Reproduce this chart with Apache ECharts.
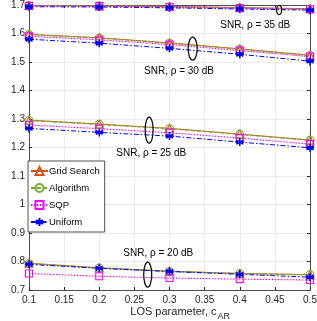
<!DOCTYPE html>
<html><head><meta charset="utf-8">
<script src="https://cdn.jsdelivr.net/npm/echarts@6/dist/echarts.min.js"></script>
<style>html,body{margin:0;padding:0;background:#fff}#c{width:317px;height:321px}</style>
</head><body><div id="c"></div>
<script>
const xValues = [0.1, 0.2, 0.3, 0.4, 0.5];
const xTicks = ['0.1','0.15','0.2','0.25','0.3','0.35','0.4','0.45','0.5'];
const yTicks = ['0.7','0.8','0.9','1','1.1','1.2','1.3','1.4','1.5','1.6','1.7'];
const methods = ['Grid Search', 'Algorithm', 'SQP', 'Uniform'];
const snrLevels = ['35', '30', '25', '20'];

const gridSearch35 = [1.698, 1.697, 1.695, 1.691, 1.687];
const gridSearch30 = [1.597, 1.585, 1.567, 1.546, 1.524];
const gridSearch25 = [1.296, 1.282, 1.267, 1.247, 1.226];
const gridSearch20 = [0.794, 0.778, 0.766, 0.758, 0.754];

const algorithm35 = [1.698, 1.697, 1.694, 1.690, 1.686];
const algorithm30 = [1.596, 1.584, 1.566, 1.545, 1.523];
const algorithm25 = [1.295, 1.281, 1.266, 1.246, 1.225];
const algorithm20 = [0.793, 0.777, 0.765, 0.758, 0.753];

const sqp35 = [1.697, 1.696, 1.693, 1.689, 1.685];
const sqp30 = [1.590, 1.578, 1.561, 1.540, 1.519];
const sqp25 = [1.279, 1.266, 1.252, 1.233, 1.212];
const sqp20 = [0.758, 0.748, 0.742, 0.738, 0.735];

const uniform35 = [1.694, 1.693, 1.690, 1.686, 1.682];
const uniform30 = [1.580, 1.566, 1.548, 1.527, 1.503];
const uniform25 = [1.267, 1.253, 1.240, 1.219, 1.199];
const uniform20 = [0.790, 0.776, 0.765, 0.755, 0.745];

// annotation anchors in data coordinates
const ellipseCenters = [[0.456, 1.6825], [0.333, 1.547], [0.271, 1.261], [0.269, 0.754]];
const ellipseRadii = [[2.5, 4.5], [4.5, 11.5], [4, 13], [4, 12.5]];
const labelCenters = [[0.422, 1.630], [0.3135, 1.468], [0.274, 1.181], [0.284, 0.830]];

const seriesData = {
  'Grid Search': [gridSearch35, gridSearch30, gridSearch25, gridSearch20],
  'Algorithm': [algorithm35, algorithm30, algorithm25, algorithm20],
  'SQP': [sqp35, sqp30, sqp25, sqp20],
  'Uniform': [uniform35, uniform30, uniform25, uniform20]
};

const asterisk = 'path://M0,-5L0,5M-4.33,-2.5L4.33,2.5M-4.33,2.5L4.33,-2.5M-5,0L5,0';
const styles = {
  'Grid Search': {color: '#D95319', symbol: 'triangle', size: 8, type: 'solid', width: 1},
  'Algorithm': {color: '#77AC30', symbol: 'circle', size: 8, type: [4, 2], width: 1.3},
  'SQP': {color: '#FF00FF', symbol: 'rect', size: 7, type: [1.5, 1.5], width: 1.1},
  'Uniform': {color: '#0000FF', symbol: asterisk, size: 8, type: [5, 2, 1.5, 2], width: 1}
};

const series = [];
snrLevels.forEach((s, i) => {
  methods.forEach(m => {
    const st = styles[m];
    const isAst = m === 'Uniform';
    series.push({
      name: m, type: 'line',
      data: xValues.map((x, k) => [x, seriesData[m][i][k]]),
      symbol: st.symbol, symbolSize: st.size, showAllSymbol: true,
      clip: false, silent: true, animation: false,
      lineStyle: {color: st.color, width: st.width, type: st.type},
      itemStyle: {color: isAst ? st.color : 'rgba(255,255,255,0)', borderColor: st.color, borderWidth: isAst ? 1.6 : 1.1}
    });
  });
});

const font = 'Liberation Sans, Arial, Helvetica, sans-serif';
const chart = echarts.init(document.getElementById('c'), null, {renderer: 'canvas'});
chart.setOption({
  animation: false,
  backgroundColor: '#fff',
  textStyle: {fontFamily: font},
  grid: {left: 29, right: 7, top: 5, bottom: 31, containLabel: false, outerBoundsMode: 'none'},
  legend: {
    data: methods, orient: 'vertical', left: 28, top: 161,
    backgroundColor: '#fff', borderColor: '#262626', borderWidth: 0.8, borderRadius: 0,
    padding: [5, 5, 5, 2], itemWidth: 17, itemHeight: 10, itemGap: 7,
    textStyle: {fontFamily: font, fontSize: 9.5, color: '#000', padding: [0, 0, 0, -4]},
    selectedMode: false
  },
  xAxis: [{
    type: 'value', min: 0.1, max: 0.5, interval: 0.05,
    axisLine: {show: true, lineStyle: {color: '#262626', width: 0.8}},
    axisTick: {show: true, inside: true, length: 3, lineStyle: {color: '#262626'}},
    axisLabel: {fontFamily: font, fontSize: 10, color: '#262626', margin: 5,
      formatter: (v) => xTicks[Math.round((v - 0.1) / 0.05)] || ''},
    splitLine: {show: true, lineStyle: {color: '#EBEBEB', width: 1}}
  }, {
    type: 'value', min: 0.1, max: 0.5, interval: 0.05, position: 'top',
    axisLine: {show: true, lineStyle: {color: '#262626', width: 0.8}},
    axisTick: {show: true, inside: true, length: 3, lineStyle: {color: '#262626'}},
    axisLabel: {show: false}, splitLine: {show: false}
  }],
  yAxis: [{
    type: 'value', min: 0.7, max: 1.7, interval: 0.1,
    name: 'Key Rate (bits per cu)', nameLocation: 'middle', nameGap: 21,
    nameTextStyle: {fontFamily: font, fontSize: 10.5, color: '#262626'},
    axisLine: {show: true, lineStyle: {color: '#262626', width: 0.8}},
    axisTick: {show: true, inside: true, length: 3, lineStyle: {color: '#262626'}},
    axisLabel: {fontFamily: font, fontSize: 10, color: '#262626', margin: 4,
      formatter: (v) => yTicks[Math.round((v - 0.7) / 0.1)] || ''},
    splitLine: {show: true, lineStyle: {color: '#EBEBEB', width: 1}}
  }, {
    type: 'value', min: 0.7, max: 1.7, interval: 0.1, position: 'right',
    axisLine: {show: true, lineStyle: {color: '#262626', width: 0.8}},
    axisTick: {show: true, inside: true, length: 3, lineStyle: {color: '#262626'}},
    axisLabel: {show: false}, splitLine: {show: false}
  }],
  series: series
});

const graphics = [];
ellipseCenters.forEach((c, i) => {
  const p = chart.convertToPixel({xAxisIndex: 0, yAxisIndex: 0}, c);
  graphics.push({type: 'ellipse', shape: {cx: p[0], cy: p[1], rx: ellipseRadii[i][0], ry: ellipseRadii[i][1]},
    style: {fill: 'none', stroke: '#000', lineWidth: 1.2}, z: 100});
});
labelCenters.forEach((c, i) => {
  const p = chart.convertToPixel({xAxisIndex: 0, yAxisIndex: 0}, c);
  graphics.push({type: 'text', x: p[0], y: p[1], z: 100,
    style: {text: 'SNR, \u03C1 = ' + snrLevels[i] + ' dB', font: '10px ' + font, fill: '#000', align: 'center', verticalAlign: 'middle'}});
});
// x-axis title with subscript
const titleP = chart.convertToPixel({xAxisIndex: 0, yAxisIndex: 0}, [0.3, 0.7]);
graphics.push({type: 'text', x: titleP[0] + 47, y: titleP[1] + 22, z: 100,
  style: {text: 'LOS parameter, c', font: '11px ' + font, fill: '#262626', align: 'right', verticalAlign: 'middle'}});
graphics.push({type: 'text', x: titleP[0] + 48, y: titleP[1] + 27, z: 100,
  style: {text: 'AR', font: '9px ' + font, fill: '#262626', align: 'left', verticalAlign: 'middle'}});
chart.setOption({graphic: graphics});
</script></body></html>
